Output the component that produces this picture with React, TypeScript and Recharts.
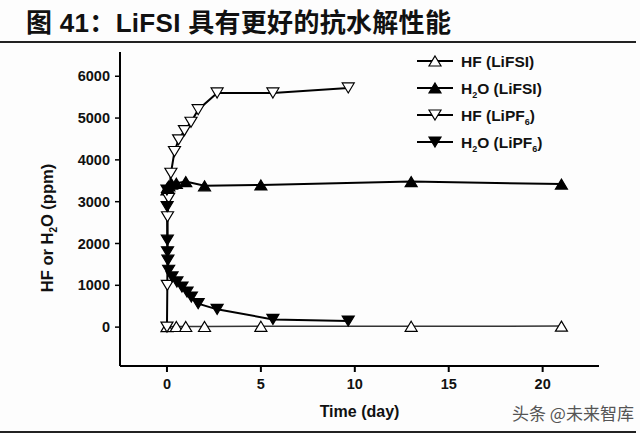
import React from "react";
import { LineChart, Line, XAxis, YAxis, Legend } from "recharts";

// ---- data ----
const hfLiFSI_t = [0, 0.5, 1, 2, 5, 13, 21];
const hfLiFSI_v = [10, 15, 15, 15, 20, 20, 25];

const h2oLiFSI_t = [0, 0.03, 0.1, 0.25, 0.5, 1, 2, 5, 13, 21];
const h2oLiFSI_v = [3280, 3340, 3380, 3420, 3440, 3480, 3380, 3400, 3480, 3420];

const hfLiPF6_t = [0, 0.02, 0.03, 0.09, 0.21, 0.4, 0.62, 0.93, 1.28, 1.66, 2.67, 5.64, 9.65];
const hfLiPF6_v = [0, 1000, 2640, 3080, 3680, 4200, 4480, 4700, 4900, 5200, 5600, 5600, 5720];

const h2oLiPF6_t = [0, 0.01, 0.02, 0.03, 0.05, 0.09, 0.27, 0.53, 0.8, 1.07, 1.3, 1.66, 2.67, 5.64, 9.65];
const h2oLiPF6_v = [3280, 2880, 2080, 1800, 1600, 1360, 1200, 1080, 960, 840, 720, 560, 425, 185, 145];

const xTicks = [0, 5, 10, 15, 20];
const yTicks = [0, 1000, 2000, 3000, 4000, 5000, 6000];

const TITLE = "图 41：LiFSI 具有更好的抗水解性能";
const WATERMARK = "头条 @未来智库";

const zip = (t: number[], v: number[]) => t.map((x, i) => ({ t: x, v: v[i] }));

const series = [
  { name: "HF", sub: "", tail: " (LiFSI)", data: zip(hfLiFSI_t, hfLiFSI_v), up: true, fill: "#ffffff", stroke: "#333", width: 1.5 },
  { name: "H", sub: "2", tail: "O (LiFSI)", data: zip(h2oLiFSI_t, h2oLiFSI_v), up: true, fill: "#000000", stroke: "#000", width: 2 },
  { name: "HF", sub: "", tail: " (LiPF", sub2: "6", data: zip(hfLiPF6_t, hfLiPF6_v), up: false, fill: "#ffffff", stroke: "#000", width: 2 },
  { name: "H", sub: "2", tail: "O (LiPF", sub2: "6", data: zip(h2oLiPF6_t, h2oLiPF6_v), up: false, fill: "#000000", stroke: "#000", width: 2 },
];

const triPath = (cx: number, cy: number, up: boolean) => {
  const w = 6, h = 5;
  return up
    ? `M${cx},${cy - h} L${cx + w},${cy + h} L${cx - w},${cy + h} Z`
    : `M${cx},${cy + h} L${cx + w},${cy - h} L${cx - w},${cy - h} Z`;
};

const makeDot = (up: boolean, fill: string) => (props: any) => {
  const { cx, cy, index } = props;
  if (cx == null || cy == null) return <g key={`d-${index}`} />;
  return (
    <path key={`d-${index}`} d={triPath(cx, cy, up)} fill={fill} stroke="#000" strokeWidth={1.2} strokeLinejoin="miter" />
  );
};

const font = "'Liberation Sans', Arial, sans-serif";

const LegendBox = () => (
  <svg width={200} height={110} style={{ display: "block" }}>
    {series.map((s, i) => {
      const y = 13 + i * 27;
      return (
        <g key={i}>
          <line x1={7} x2={43} y1={y} y2={y} stroke="#000" strokeWidth={2} />
          <path d={triPath(25, y, s.up)} fill={s.fill} stroke="#000" strokeWidth={1.2} />
          <text x={51} y={y + 5.5} fontFamily={font} fontWeight="bold" fontSize={15.5} fill="#111">
            {s.name}
            {s.sub ? <tspan fontSize={9} dy={4}>{s.sub}</tspan> : null}
            <tspan dy={s.sub ? -4 : 0}>{s.tail}</tspan>
            {s.sub2 ? <tspan fontSize={9} dy={4}>{s.sub2}</tspan> : null}
            {s.sub2 ? <tspan dy={-4}>)</tspan> : null}
          </text>
        </g>
      );
    })}
  </svg>
);

export default function App() {
  return (
    <div style={{ position: "relative", width: 640, height: 433, background: "#fdfdfd", overflow: "hidden" }}>
      <style>{`body{margin:0;background:#fdfdfd}`}</style>
      <div
        style={{
          position: "absolute", left: 26, top: 6, fontSize: 26, fontWeight: "bold", color: "#111", letterSpacing: 0.3,
          fontFamily: "'Liberation Sans', 'Noto Sans CJK SC', sans-serif", whiteSpace: "nowrap", lineHeight: "34px",
        }}
      >
        {TITLE}
      </div>
      <div style={{ position: "absolute", left: 0, top: 41, width: 636, height: 2, background: "#222" }} />
      <LineChart width={640} height={433} margin={{ top: 52, right: 41, left: 60, bottom: 37 }}>
        <XAxis
          type="number"
          dataKey="t"
          domain={[-2.5, 23]}
          ticks={xTicks}
          allowDataOverflow
          axisLine={{ stroke: "#000", strokeWidth: 2 }}
          tickLine={{ stroke: "#000", strokeWidth: 2 }}
          tickSize={6}
          tickMargin={7}
          tick={{ fontSize: 14.5, fontWeight: "bold", fill: "#111", fontFamily: font }}
          label={{ value: "Time (day)", position: "bottom", offset: 10, style: { fontSize: 16, fontWeight: "bold", fill: "#111", fontFamily: font } }}
        />
        <YAxis
          type="number"
          dataKey="v"
          domain={[-930, 6580]}
          ticks={yTicks}
          allowDataOverflow
          width={60}
          axisLine={{ stroke: "#000", strokeWidth: 2 }}
          tickLine={{ stroke: "#000", strokeWidth: 1.5 }}
          tickSize={5}
          tickMargin={5}
          tick={{ fontSize: 14.5, fontWeight: "bold", fill: "#111", fontFamily: font }}
          label={{
            content: () => (
              <text transform="translate(53,228) rotate(-90)" textAnchor="middle" fontFamily={font} fontWeight="bold" fontSize={16.5} fill="#111">
                HF or H<tspan fontSize={10} dy={4}>2</tspan><tspan dy={-4}>O (ppm)</tspan>
              </text>
            ),
          }}
        />
        <Legend
          layout="vertical"
          align="center"
          verticalAlign="middle"
          content={() => <LegendBox />}
          wrapperStyle={{ top: 48, left: 410, width: 200, height: 110 }}
        />
        {series.map((s, i) => (
          <Line
            key={i}
            data={s.data}
            dataKey="v"
            name={`${s.name}${s.sub}${s.tail}${s.sub2 ? s.sub2 + ")" : ""}`}
            type="linear"
            stroke={s.stroke}
            strokeWidth={s.width}
            dot={makeDot(s.up, s.fill)}
            activeDot={false}
            isAnimationActive={false}
          />
        ))}
      </LineChart>
      <div
        style={{
          position: "absolute", left: 512, top: 402, fontSize: 17, color: "#555",
          fontFamily: "'Noto Sans CJK SC', sans-serif", whiteSpace: "nowrap", lineHeight: "22px",
        }}
      >
        {WATERMARK}
      </div>
      <div style={{ position: "absolute", left: 0, top: 431, width: 636, height: 2, background: "#222" }} />
    </div>
  );
}
